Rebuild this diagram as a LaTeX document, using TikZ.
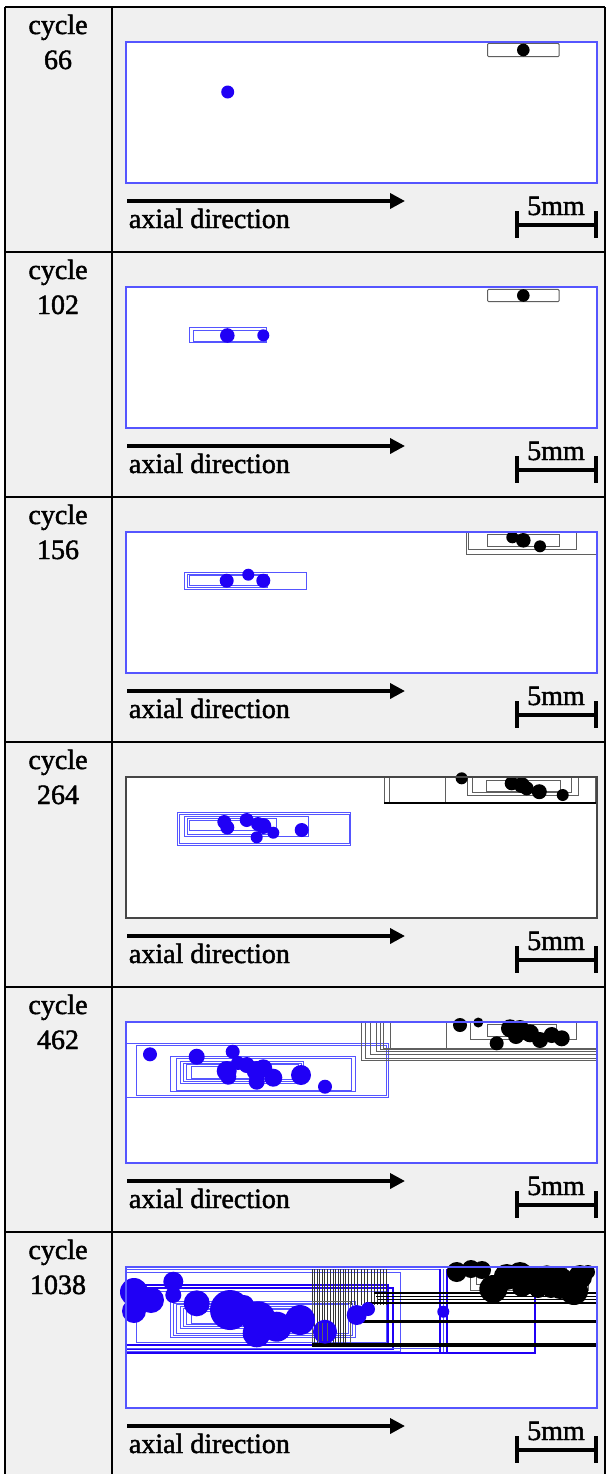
\documentclass[tikz,border=0pt]{standalone}
\usepackage{fontspec}
\setmainfont{Liberation Serif}
\newfontfamily\lblfont{Liberation Serif}[FakeBold=1.6]
\usetikzlibrary{arrows.meta}
\definecolor{cellbg}{HTML}{F0F0F0}
\definecolor{boxblue}{RGB}{85,85,255}
\definecolor{dotblue}{RGB}{32,0,245}
\definecolor{boxgray}{RGB}{95,95,95}
\definecolor{framegray}{RGB}{70,70,70}
\newcommand\BD[3]{\fill[dotblue] (#1,#2) circle[radius=#3*0.5pt];}
\newcommand\KD[3]{\fill[black] (#1,#2) circle[radius=#3*0.5pt];}
\tikzset{
  tableline/.style={draw=black, line width=1pt},
  celltext/.style={font=\lblfont\fontsize{14}{16}\selectfont, inner sep=0pt},
  axarrow/.style={line width=1.8pt, -{Triangle[length=7.5pt,width=7.5pt]}},
  scalebar/.style={line width=2pt},
  bbox/.style={draw=boxblue, line width=0.5pt},
  bthick/.style={draw=dotblue, line width=1pt},
  kbox/.style={draw=boxgray, line width=0.5pt},
  kline/.style={draw=black!80, line width=0.5pt},
  kthick/.style={draw=black, line width=1.4pt},
  panelblue/.style={draw=boxblue, line width=0.6pt},
  panelgray/.style={draw=framegray, line width=0.6pt},
}
\begin{document}
\begin{tikzpicture}[x=0.5pt,y=-0.5pt]
\useasboundingbox (0,0) rectangle (606,1474);
\fill[cellbg] (5,7) rectangle (605,1474);
\foreach \t/\c [count=\i] in {7/66,252/102,497/156,742/264,987/462,1232/1038} {
  \node[celltext, anchor=base] (cyc\i) at (58,\t+27) {cycle};
  \node[celltext, anchor=base] (num\i) at (58,\t+62) {\c};
  \fill[white] (126,\t+35) rectangle (597,\t+176);
  \coordinate (as\i) at (127,\t+194);
  \coordinate (ae\i) at (405,\t+194);
  \draw[axarrow] (as\i) -- (ae\i);
  \node[celltext, anchor=base west] (ax\i) at (128.5,\t+221) {axial direction};
  \coordinate (sl\i) at (516.7,\t+217.5);
  \coordinate (sr\i) at (596.3,\t+217.5);
  \draw[scalebar] (sl\i) -- (sr\i);
  \draw[scalebar] (516.7,\t+204) -- (516.7,\t+231);
  \draw[scalebar] (596.3,\t+204) -- (596.3,\t+231);
  \node[celltext, anchor=base] (mm\i) at (556,\t+208) {5mm};
}
% ---------- row 1: cycle 66
\begin{scope}[shift={(126,42)}]
  \draw[kbox, rounded corners=0.5pt] (361.7,1.3) rectangle (433,14.7);
  \KD{397.3}{8}{6.3}
  \BD{101.7}{50}{6.5}
  \draw[panelblue] (0,0) rectangle (471,141);
\end{scope}
% ---------- row 2: cycle 102
\begin{scope}[shift={(126,287)}]
  \draw[kbox, rounded corners=0.5pt] (361.7,2.3) rectangle (433,14.7);
  \KD{397.3}{8.5}{6.3}
  \draw[bbox] (63.3,40.7) rectangle (140.7,55.7);
  \draw[bbox] (67,43.5) rectangle (139,54);
  \BD{101.3}{48.5}{7.3}
  \BD{137.3}{48.3}{6}
  \draw[panelblue] (0,0) rectangle (471,141);
\end{scope}
% ---------- row 3: cycle 156
\begin{scope}[shift={(126,532)}]
  \draw[kbox] (340,0) -- (340,22.7) -- (471,22.7);
  \draw[kbox] (342.3,0) -- (342.3,17.7) -- (450.7,17.7) -- (450.7,0);
  \draw[kbox] (361.7,2) rectangle (433,14.3);
  \KD{386.3}{5.3}{6}
  \KD{397.3}{8.3}{7.3}
  \KD{414}{14.3}{6}
  \draw[bbox] (58.3,40) rectangle (180,57);
  \draw[bbox] (61,42) rectangle (141,55);
  \draw[bbox] (63.3,43.3) rectangle (140.7,53.7);
  \BD{100.7}{48.7}{7}
  \BD{122.3}{42.7}{6}
  \BD{137.3}{48.7}{7}
  \draw[panelblue] (0,0) rectangle (471,141);
\end{scope}
% ---------- row 4: cycle 264
\begin{scope}[shift={(126,777)}]
  \draw[kbox] (258,0) -- (258,26);
  \draw[kbox] (263.3,0) -- (263.3,26);
  \draw[kbox] (319.7,0) -- (319.7,26);
  \draw[kbox] (341.3,0) -- (341.3,18) -- (452.3,18) -- (452.3,0);
  \draw[kbox] (346.3,0) -- (346.3,15) -- (445,15) -- (445,0);
  \draw[kbox] (360.7,3) rectangle (434,14.7);
  \draw[kbox] (469,0) -- (469,26);
  \draw[kthick] (258,26) -- (471,26);
  \KD{335.7}{1.3}{6}
  \KD{385.7}{6.3}{7}
  \KD{395.7}{8}{8}
  \KD{400.7}{11.3}{7}
  \KD{413.3}{14.7}{7.5}
  \KD{436.7}{18}{6}
  \draw[bbox] (51.3,35.3) rectangle (224.7,68);
  \draw[bbox] (53.3,37) rectangle (223.3,66.3);
  \draw[bbox] (58,39) rectangle (182.3,59.7);
  \draw[bbox] (61,41) rectangle (150,57);
  \draw[bbox] (63.3,43.3) rectangle (140.7,53.7);
  \BD{98.3}{45}{7}
  \BD{101.3}{50.5}{7}
  \BD{120.7}{43}{7}
  \BD{132}{47}{7}
  \BD{137.3}{49}{8}
  \BD{130.7}{60.3}{6}
  \BD{147.3}{55.7}{6}
  \BD{175.7}{53}{7}
  \draw[panelgray] (0,0) rectangle (471,141);
\end{scope}
% ---------- row 5: cycle 462
\begin{scope}[shift={(126,1022)}]
  \draw[bbox] (0,21) rectangle (262.3,75.5);
  \draw[bbox] (10.7,23.3) rectangle (260.7,73);
  \draw[bbox] (44,34.3) rectangle (229,69.3);
  \draw[bbox] (50.7,36) rectangle (225.7,68);
  \draw[bbox] (54,39.7) rectangle (177.7,61.3);
  \draw[bbox] (57.5,41) rectangle (175,59.5);
  \draw[bbox] (60.7,42.3) rectangle (172.7,57.7);
  \draw[bbox] (65.7,44.7) rectangle (140.7,56);
  \foreach \xx/\yy in {235.7/38.3,239/36,244/32.7,250.7/29.3,254/27.5,257.3/26} {
    \draw[kbox] (\xx,0) -- (\xx,\yy) -- (471,\yy);
  }
  \draw[kbox] (264,0) -- (264,26);
  \draw[kbox] (320,0) -- (320,26);
  \draw[kbox] (344,0) -- (344,17.7) -- (450.7,17.7) -- (450.7,0);
  \draw[kbox] (361.7,2.7) rectangle (430.7,14.3);
  \KD{334}{3}{7}
  \KD{352.3}{0.5}{5}
  \KD{370.7}{21.3}{7}
  \KD{384}{6.3}{9}
  \KD{394}{8}{10}
  \KD{404}{11.3}{9}
  \KD{390}{14}{8}
  \KD{414}{18}{8}
  \KD{425.7}{13}{8}
  \KD{435.7}{16.3}{8}
  \BD{24}{32.3}{7}
  \BD{70.7}{34.7}{8}
  \BD{106.7}{29.7}{7}
  \BD{100.7}{49}{10}
  \BD{102.3}{54.7}{8}
  \BD{112}{41}{7}
  \BD{120.7}{43}{8}
  \BD{130.7}{49}{10}
  \BD{137.3}{46.3}{9}
  \BD{130.7}{59.7}{8}
  \BD{147.3}{55.7}{9}
  \BD{175}{53}{10}
  \BD{199}{64.7}{7}
  \draw[panelblue] (0,0) rectangle (471,141);
\end{scope}
% ---------- row 6: cycle 1038
\begin{scope}[shift={(126,1267)}]
  % blue boxes
  \draw[bbox] (0,2.3) rectangle (314,86.3);
  \draw[bbox] (0,5.3) -- (274,5.3) -- (274,84.7) -- (0,84.7);
  \draw[bthick] (0,18) -- (262.3,18) -- (262.3,78) -- (0,78);
  \draw[bthick] (0,21.3) -- (267.3,21.3) -- (267.3,82) -- (0,82);
  \draw[bbox] (10.7,24) rectangle (260.7,75);
  \draw[bbox] (44,34.3) rectangle (229,70);
  \draw[bbox] (47.3,36) rectangle (226,68);
  \draw[bbox] (50.7,37.7) rectangle (222,66);
  \draw[bbox] (54,39.7) rectangle (178,61.3);
  \draw[bbox] (57.5,41) rectangle (175,59.5);
  \draw[bbox] (60.7,42.3) rectangle (172.7,57.7);
  \draw[bbox] (65.7,44.7) rectangle (140.7,56);
  \draw[bthick] (314,2.3) -- (314,86.3);
  \draw[bbox] (317.3,2.3) -- (317.3,86.3);
  \draw[bthick] (320.7,2.3) -- (320.7,86.3) -- (409,86.3) -- (409,2.3);
  \draw[bthick] (0,86.3) -- (320.7,86.3);
  \draw[bbox] (0,81) -- (314,81);
  % black lines
  \foreach \xx in {186,188.5,191,193.5,196,198.5,201.5,204,207,209.5,212,214.5,217,219.5} {
    \draw[kline] (\xx,2.3) -- (\xx,78);
  }
  \foreach \xx in {222,225,228,231,235,238,241,245,248,251,254,257,260} {
    \draw[kline] (\xx,2.3) -- (\xx,38);
  }
  \draw[kbox] (186,34.7) rectangle (224,78);
  \draw[kbox] (224,40) -- (224,54.7);
  \draw[kthick, line width=0.9pt] (248,26.3) -- (471,26.3);
  \draw[kthick, line width=0.9pt] (250,29.5) -- (471,29.5);
  \draw[kthick, line width=0.9pt] (252,32.5) -- (471,32.5);
  \draw[kthick, line width=1.1pt] (240,36.3) -- (471,36.3);
  \draw[kthick, line width=1.4pt] (224,54.7) -- (471,54.7);
  \draw[kthick, line width=2pt] (186,78) -- (471,78);
  \draw[kbox] (344,0) -- (344,23) -- (462,23) -- (462,0);
  \draw[kbox] (350,0) -- (350,17) -- (440,17) -- (440,0);
  % black dots
  \KD{330.7}{5}{10}
  \KD{345}{2}{9}
  \KD{356}{3}{9}
  \KD{367.3}{22}{14}
  \KD{380.7}{10}{13}
  \KD{394}{8}{13}
  \KD{407.3}{13}{13}
  \KD{420.7}{11.3}{13}
  \KD{434}{13}{13}
  \KD{434}{21}{11}
  \KD{448}{24}{14}
  \KD{454}{10}{12}
  \KD{462}{5}{7}
  \KD{396}{20}{10}
  \KD{412}{22}{9}
  \KD{425}{22}{9}
  % blue dots
  \BD{8}{25}{14}
  \BD{8}{44}{12}
  \BD{25}{33}{13}
  \BD{47.3}{14.7}{10}
  \BD{47.3}{28}{8}
  \BD{70.7}{36.3}{13}
  \BD{104}{43}{20}
  \BD{118}{38}{10}
  \BD{132.3}{51.3}{17}
  \BD{130.7}{66.3}{14}
  \BD{150.7}{59.7}{15}
  \BD{174}{53}{15}
  \BD{199}{64.7}{12}
  \BD{230.7}{48}{10}
  \BD{242}{42}{7}
  \BD{317.3}{44.7}{6}
  \draw[kbox] (192,56) -- (192,74);
  \draw[kbox] (196,56) -- (196,74);
  \draw[kbox] (201,56) -- (201,74);
  \draw[panelblue] (0,0) rectangle (471,141);
\end{scope}
% table lines
\foreach \t in {7,252,497,742,987,1232} {
  \draw[tableline] (5,\t) -- (605,\t);
}
\draw[tableline] (5,7) -- (5,1474);
\draw[tableline] (112,7) -- (112,1474);
\draw[tableline] (605,7) -- (605,1474);
\end{tikzpicture}
\end{document}
